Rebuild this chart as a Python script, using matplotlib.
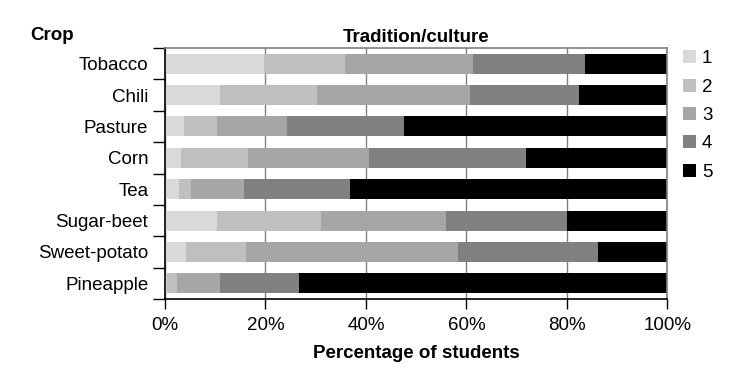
import numpy as np
import matplotlib
matplotlib.use("Agg")
import matplotlib.pyplot as plt

plt.rcParams["font.family"] = ["Liberation Sans", "DejaVu Sans"]

crops = ["Tobacco", "Chili", "Pasture", "Corn", "Tea", "Sugar-beet", "Sweet-potato", "Pineapple"]
levels = ["1", "2", "3", "4", "5"]
score_1 = [19.7, 10.9, 3.7, 3.1, 2.7, 10.4, 4.1, 0.4]
score_2 = [16.2, 19.3, 6.7, 13.4, 2.4, 20.6, 12.1, 1.9]
score_3 = [25.5, 30.5, 13.8, 24.2, 10.6, 24.9, 42.1, 8.6]
score_4 = [22.3, 21.8, 23.4, 31.2, 21.2, 24.2, 27.9, 15.8]
score_5 = [16.3, 17.5, 52.4, 28.1, 63.1, 19.9, 13.8, 73.3]
colors = ["#d9d9d9", "#bfbfbf", "#a6a6a6", "#808080", "#000000"]

series = [score_1, score_2, score_3, score_4, score_5]

fig = plt.figure(figsize=(7.49, 3.81), dpi=100)
ax = fig.add_axes([0.2203, 0.2152, 0.891 - 0.2203, 0.874 - 0.2152])

y = np.arange(len(crops))
left = np.zeros(len(crops))
handles = []
for vals, col, lab in zip(series, colors, levels):
    vals = np.array(vals)
    b = ax.barh(y, vals, left=left, height=0.64, color=col, label=lab)
    handles.append(b)
    left += vals

ax.set_xlim(0, 100)
ax.set_ylim(len(crops) - 0.5, -0.5)
ax.set_axisbelow(True)
ax.xaxis.grid(True, color="#808080", linewidth=1)

ax.set_xticks([0, 20, 40, 60, 80, 100])
ax.set_xticklabels(["0%", "20%", "40%", "60%", "80%", "100%"], fontsize=13.5)
ax.set_yticks(y)
ax.set_yticklabels(crops, fontsize=13.5)
ax.tick_params(axis="y", which="major", length=0, pad=12)
ax.set_yticks(np.arange(-0.5, len(crops)), minor=True)
ax.tick_params(axis="y", which="minor", length=9, width=1, color="black")
ax.tick_params(axis="x", length=7, width=1, pad=6)

for s in ["top", "right"]:
    ax.spines[s].set_color("#808080")
    ax.spines[s].set_linewidth(1.2)
for s in ["left", "bottom"]:
    ax.spines[s].set_color("black")
    ax.spines[s].set_linewidth(1.2)

ax.set_xlabel("Percentage of students", fontsize=13.5, fontweight="bold", labelpad=8)
ax.set_title("Tradition/culture", fontsize=13.5, fontweight="bold", pad=4)
fig.text(30 / 749, 1 - 35 / 381, "Crop", fontsize=13.5, fontweight="bold", va="center", ha="left")

fig.legend(handles=handles, labels=levels, loc="upper left", bbox_to_anchor=(670 / 749, 1 - 37 / 381),
           frameon=False, fontsize=13.5, handlelength=0.7, handleheight=0.7,
           handletextpad=0.3, labelspacing=0.6, borderpad=0.2)

fig.savefig("out.png", dpi=100)
